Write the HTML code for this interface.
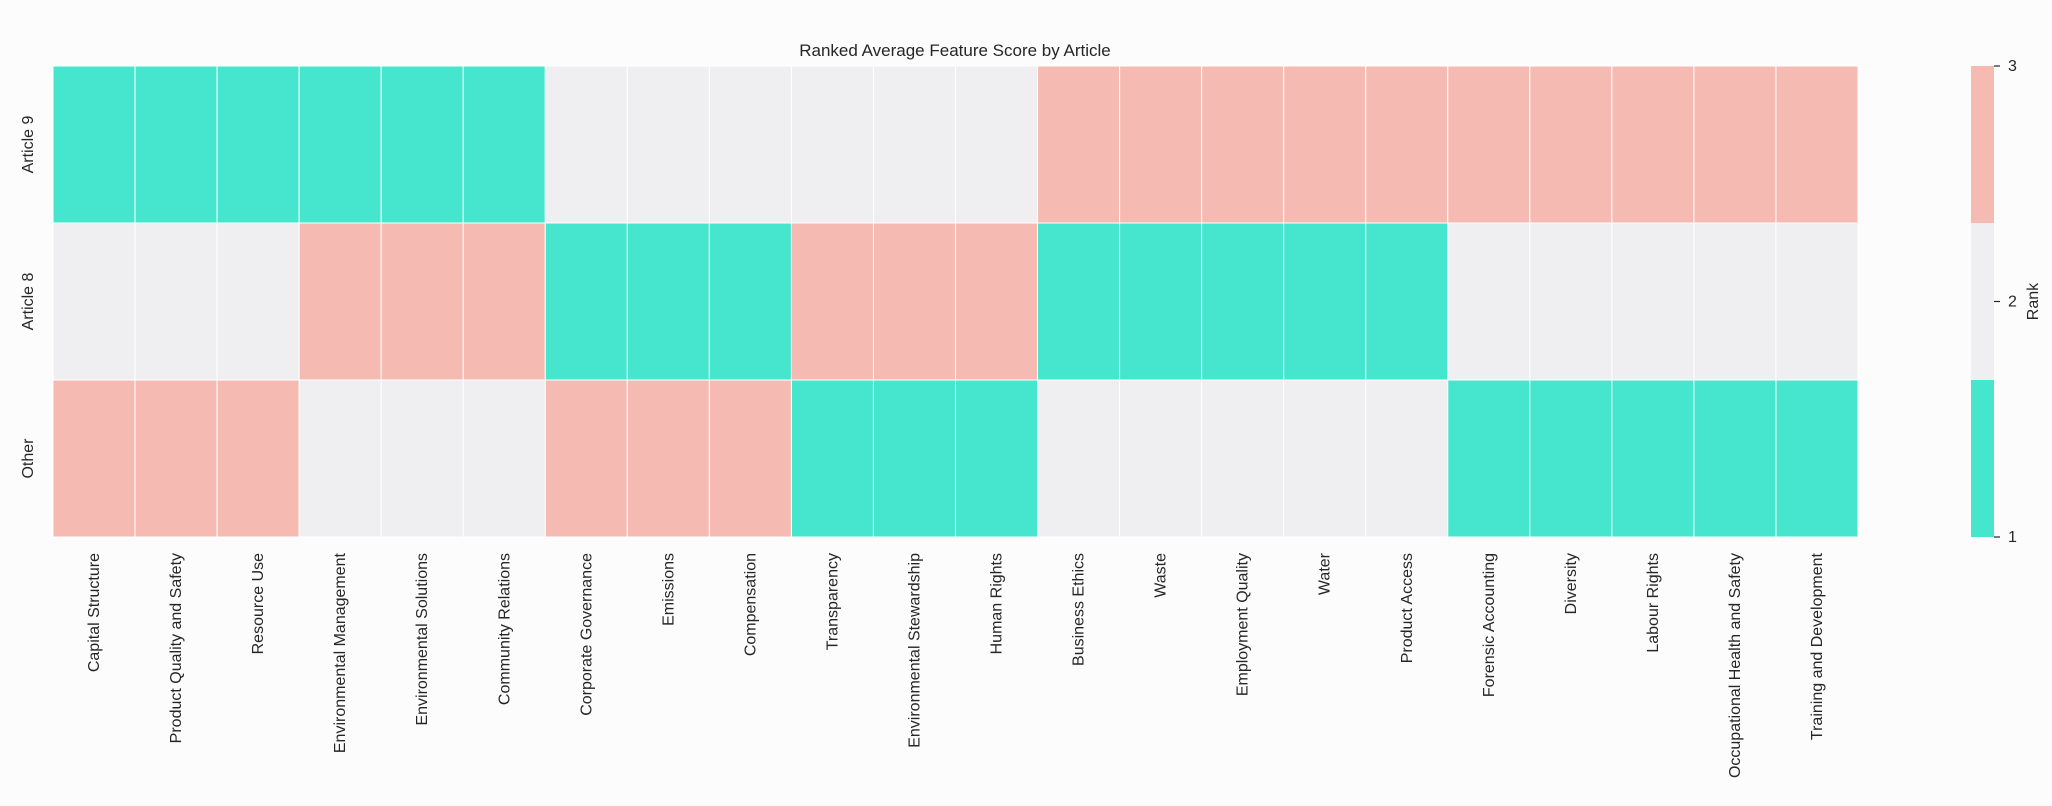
<!DOCTYPE html>
<html><head><meta charset="utf-8"><style>
html,body{margin:0;padding:0;background:#fdfcfd;}
svg{display:block;font-family:"Liberation Sans",Arial,sans-serif;}
</style></head><body>
<svg id="chart" width="2052" height="806">
<text x="955" y="56" text-anchor="middle" font-size="17" fill="#262626">Ranked Average Feature Score by Article</text>
<g id="cells"></g>
<g id="xlabels"></g>
<g id="ylabels"></g>
<g id="cbar"></g>
</svg>
<script>
const categories = ["Capital Structure","Product Quality and Safety","Resource Use","Environmental Management","Environmental Solutions","Community Relations","Corporate Governance","Emissions","Compensation","Transparency","Environmental Stewardship","Human Rights","Business Ethics","Waste","Employment Quality","Water","Product Access","Forensic Accounting","Diversity","Labour Rights","Occupational Health and Safety","Training and Development"];
const rows = ["Article 9","Article 8","Other"];
const article9 = [1,1,1,1,1,1,2,2,2,2,2,2,3,3,3,3,3,3,3,3,3,3];
const article8 = [2,2,2,3,3,3,1,1,1,3,3,3,1,1,1,1,1,2,2,2,2,2];
const other = [3,3,3,2,2,2,3,3,3,1,1,1,2,2,2,2,2,1,1,1,1,1];
const cbarTicks = [1,2,3];
const series = [article9, article8, other];

const NS = "http://www.w3.org/2000/svg";
const X0 = 53, X1 = 1858, Y0 = 66, Y1 = 537;
const cw = (X1 - X0) / categories.length, rh = (Y1 - Y0) / rows.length;
const xPos = i => X0 + i * cw;
const yPos = j => Y0 + j * rh;
const colorOf = v => v <= 1.5 ? "#46e5cd" : (v < 2.5 ? "#efeef1" : "#f5bbb2");
function mk(tag, attrs){const e=document.createElementNS(NS,tag);for(const k in attrs)e.setAttribute(k,attrs[k]);return e;}

const cells = document.getElementById("cells");
series.forEach((vals, j) => {
  vals.forEach((v, i) => {
    const r = mk("rect", {x:xPos(i), y:yPos(j), width:cw, height:rh, fill:colorOf(v), stroke:"#ffffff", "stroke-width":1});
    
    
    cells.appendChild(r);
  });
});

const xl = document.getElementById("xlabels");
categories.forEach((c, i) => {
  const cx = xPos(i) + cw/2 + 5;
  const t = mk("text", {x:cx, y:553, "text-anchor":"end", "font-size":16, fill:"#262626", transform:`rotate(-90 ${cx} 553)`});
  t.textContent = c;
  
  
  xl.appendChild(t);
});

const yl = document.getElementById("ylabels");
rows.forEach((r, j) => {
  const cy = yPos(j) + rh/2, x = 33;
  const t = mk("text", {x:x, y:cy, "text-anchor":"middle", "font-size":16, fill:"#262626", transform:`rotate(-90 ${x} ${cy})`});
  t.textContent = r;
  
  
  yl.appendChild(t);
});

const cb = document.getElementById("cbar");
const CX0 = 1971, CX1 = 1994;
const cbY = v => Y1 - (v - 1) / 2 * (Y1 - Y0);
[[1,1.6667],[1.6667,2.3333],[2.3333,3]].forEach(([a,b]) => {
  const r = mk("rect", {x:CX0, y:cbY(b), width:CX1-CX0, height:cbY(a)-cbY(b), fill:colorOf((a+b)/2)});
  
  
  cb.appendChild(r);
});
cbarTicks.forEach(v => {
  const y = cbY(v);
  const l = mk("line", {x1:CX1, x2:CX1+6, y1:y, y2:y, stroke:"#262626", "stroke-width":1.2});
  
  
  cb.appendChild(l);
  const t = mk("text", {x:2008, y:y+5, "font-size":16, fill:"#262626"});
  t.textContent = v;
  
  
  cb.appendChild(t);
});
const rt = mk("text", {x:2038, y:(Y0+Y1)/2, "text-anchor":"middle", "font-size":16, fill:"#262626", transform:`rotate(-90 2038 ${(Y0+Y1)/2})`});
rt.textContent = "Rank";


cb.appendChild(rt);
</script>
</body></html>
